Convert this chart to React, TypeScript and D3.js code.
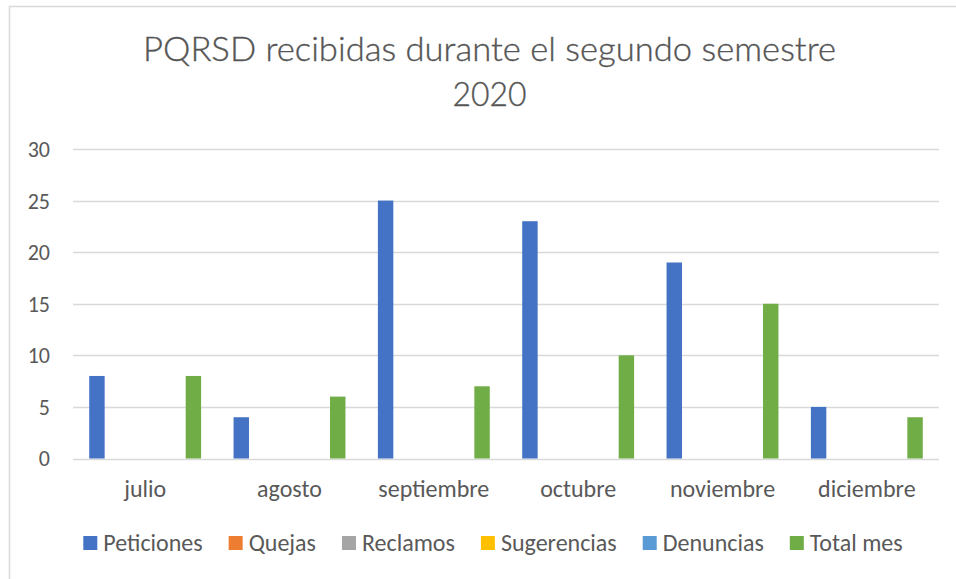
import React, { useEffect, useRef } from 'react';
import * as d3 from 'd3';

// datos del gráfico
const meses = ['julio', 'agosto', 'septiembre', 'octubre', 'noviembre', 'diciembre'];
const series = ['Peticiones', 'Quejas', 'Reclamos', 'Sugerencias', 'Denuncias', 'Total mes'];
const colores = ['#4472C4', '#ED7D31', '#A5A5A5', '#FFC000', '#5B9BD5', '#70AD47'];
const peticiones = [8, 4, 25, 23, 19, 5];
const quejas = [0, 0, 0, 0, 0, 0];
const reclamos = [0, 0, 0, 0, 0, 0];
const sugerencias = [0, 0, 0, 0, 0, 0];
const denuncias = [0, 0, 0, 0, 0, 0];
const totalMes = [8, 6, 7, 10, 15, 4];
const yTicks = [0, 5, 10, 15, 20, 25, 30];
const titulo = ['PQRSD recibidas durante el segundo semestre', '2020'];

const FONT = "Carlito, Calibri, Lato, 'Open Sans', sans-serif";
const TEXT = '#595959';

export default function App() {
  const ref = useRef<SVGSVGElement>(null);

  function draw() {
    const svg = d3.select(ref.current);
    svg.selectAll('*').remove();
    const width = 956;
    const height = 579;
    const margin = { top: 149, bottom: 120.5, left: 73, right: 17 };

    const valores = [peticiones, quejas, reclamos, sugerencias, denuncias, totalMes];

    // borde del gráfico
    svg.append('rect')
      .attr('x', 9.5).attr('y', 6.5)
      .attr('width', width + 20).attr('height', height + 20)
      .attr('fill', '#fff').attr('stroke', '#D9D9D9').attr('stroke-width', 1.5);

    // título
    svg.append('g')
      .selectAll('text')
      .data(titulo)
      .enter()
      .append('text')
      .attr('x', 489.5)
      .attr('y', (d, i) => 61 + i * 45)
      .attr('text-anchor', 'middle')
      .attr('font-family', "Lato, Carlito, 'Open Sans', sans-serif")
      .attr('font-weight', 300)
      .attr('font-size', 33)
      .attr('fill', '#555')
      .attr('stroke', '#555')
      .attr('stroke-width', 0.35)
      .attr('textLength', (d, i) => (i === 0 ? 693 : 74))
      .attr('lengthAdjust', 'spacingAndGlyphs')
      .text(d => d);

    const x = d3.scaleBand<string>()
      .domain(meses)
      .range([margin.left, width - margin.right])
      .padding(0);

    const bw = x.bandwidth();
    const xs = d3.scaleBand<string>()
      .domain(series)
      .range([bw * 0.099, bw * 0.901])
      .paddingInner(0.2)
      .paddingOuter(0.1);

    const y = d3.scaleLinear()
      .domain([0, 30])
      .range([height - margin.bottom, margin.top]);

    // líneas de cuadrícula
    svg.append('g')
      .selectAll('line')
      .data(yTicks)
      .enter()
      .append('line')
      .attr('x1', margin.left)
      .attr('x2', width - margin.right)
      .attr('y1', d => Math.round(y(d)) + 0.5)
      .attr('y2', d => Math.round(y(d)) + 0.5)
      .attr('stroke', '#D9D9D9')
      .attr('stroke-width', 1.5);

    // etiquetas eje Y
    svg.append('g')
      .selectAll('text')
      .data(yTicks)
      .enter()
      .append('text')
      .attr('x', 50)
      .attr('y', d => y(d))
      .attr('dy', '0.36em')
      .attr('text-anchor', 'end')
      .attr('font-family', FONT)
      .attr('font-size', 22)
      .attr('fill', TEXT)
      .text(d => d);

    // barras
    const grupos = svg.append('g')
      .selectAll('g')
      .data(series)
      .enter()
      .append('g')
      .attr('fill', (d, i) => colores[i]);

    grupos.selectAll('rect')
      .data((s, i) => valores[i].map((v, j) => ({ mes: meses[j], serie: s, v })))
      .enter()
      .append('rect')
      .attr('x', d => (x(d.mes) as number) + (xs(d.serie) as number))
      .attr('width', xs.bandwidth())
      .attr('y', d => y(d.v))
      .attr('height', d => y(0) - y(d.v));

    // etiquetas eje X
    svg.append('g')
      .selectAll('text')
      .data(meses)
      .enter()
      .append('text')
      .attr('x', d => (x(d) as number) + bw / 2)
      .attr('y', 497)
      .attr('text-anchor', 'middle')
      .attr('font-family', FONT)
      .attr('font-size', 24)
      .attr('fill', TEXT)
      .text(d => d);

    // leyenda
    const leyenda = svg.append('g');
    const items = leyenda.selectAll('g')
      .data(series)
      .enter()
      .append('g');
    items.append('rect')
      .attr('width', 14).attr('height', 14)
      .attr('y', -15)
      .attr('fill', (d, i) => colores[i]);
    items.append('text')
      .attr('x', 20)
      .attr('font-family', FONT)
      .attr('font-size', 24)
      .attr('fill', TEXT)
      .text(d => d);

    let pos = 0;
    const gap = 26;
    items.each(function () {
      const t = d3.select(this).select('text').node() as SVGTextElement;
      const w = 20 + t.getComputedTextLength();
      d3.select(this).attr('transform', `translate(${pos},0)`);
      pos += w + gap;
    });
    const total = pos - gap;
    leyenda.attr('transform', `translate(${493 - total / 2},551)`);
  }

  useEffect(() => {
    draw();
  }, []);

  return (
    <svg ref={ref} width={956} height={579} style={{ position: 'absolute', left: 0, top: 0 }} />
  );
}
